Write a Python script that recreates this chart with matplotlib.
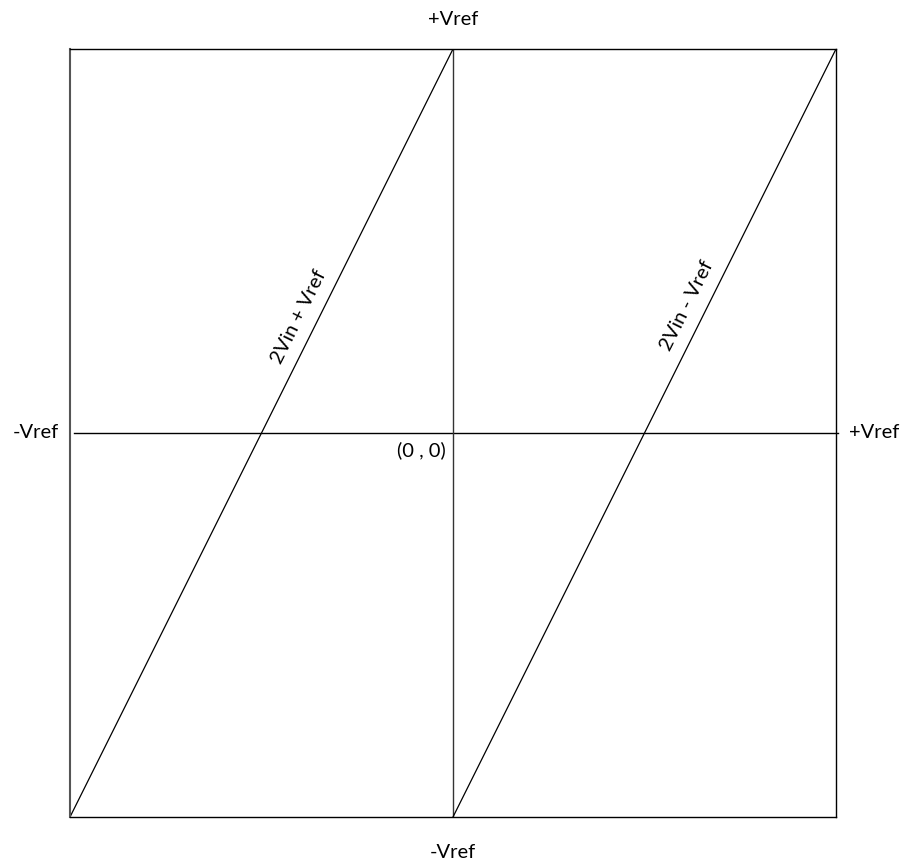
import matplotlib
matplotlib.use("Agg")
import matplotlib.pyplot as plt
import numpy as np

plt.rcParams['font.family'] = ['Lato', 'DejaVu Sans']

# Data (normalized: Vin in [-Vref, Vref], output in [-Vref, Vref])
seg1_x = [-1.0, 0.0]      # 2Vin + Vref
seg1_y = [-1.0, 1.0]
seg2_x = [0.0, 1.0]       # 2Vin - Vref
seg2_y = [-1.0, 1.0]
seg_labels = ["2Vin + Vref", "2Vin - Vref"]
axis_labels = {"top": "+Vref", "bottom": "-Vref", "left": "-Vref", "right": "+Vref"}
origin_label = "(0 , 0)"

fig = plt.figure(figsize=(9.08, 8.65), dpi=100)
ax = fig.add_axes([70/908, (865-817)/865, (836-70)/908, (817-49)/865])
ax.set_xlim(-1, 1)
ax.set_ylim(-1, 1)
ax.set_xticks([])
ax.set_yticks([])
for s in ax.spines.values():
    s.set_linewidth(1.0)
    s.set_color('black')
ax.spines['left'].set_color('#555555')
ax.spines['left'].set_linewidth(1.5)

# axes lines
ax.plot([-0.99, 1.005], [0, 0], color='black', lw=1.0, clip_on=False)
ax.plot([0, 0], [-1, 1], color='#333333', lw=1.0)

ax.plot(seg1_x, seg1_y, color='black', lw=0.9)
ax.plot(seg2_x, seg2_y, color='black', lw=0.9)

ang = 63.5
fs = 14.5
ax.annotate(seg_labels[0], xy=(-0.36, 0.28), xytext=(-12, 6), textcoords='offset points',
            rotation=ang, ha='center', va='center', fontsize=fs, rotation_mode='anchor')
ax.annotate(seg_labels[1], xy=(0.655, 0.31), xytext=(-12, 6), textcoords='offset points',
            rotation=ang, ha='center', va='center', fontsize=fs, rotation_mode='anchor')

ax.text(0, 1.055, axis_labels["top"], ha='center', va='bottom', fontsize=fs, clip_on=False)
ax.text(0, -1.07, axis_labels["bottom"], ha='center', va='top', fontsize=fs, clip_on=False)
ax.text(-1.03, 0, axis_labels["left"], ha='right', va='center', fontsize=fs, clip_on=False)
ax.text(1.035, 0, axis_labels["right"], ha='left', va='center', fontsize=fs, clip_on=False)
ax.text(-0.02, -0.045, origin_label, ha='right', va='center', fontsize=fs)

fig.savefig("out.png", dpi=100, facecolor='white')
